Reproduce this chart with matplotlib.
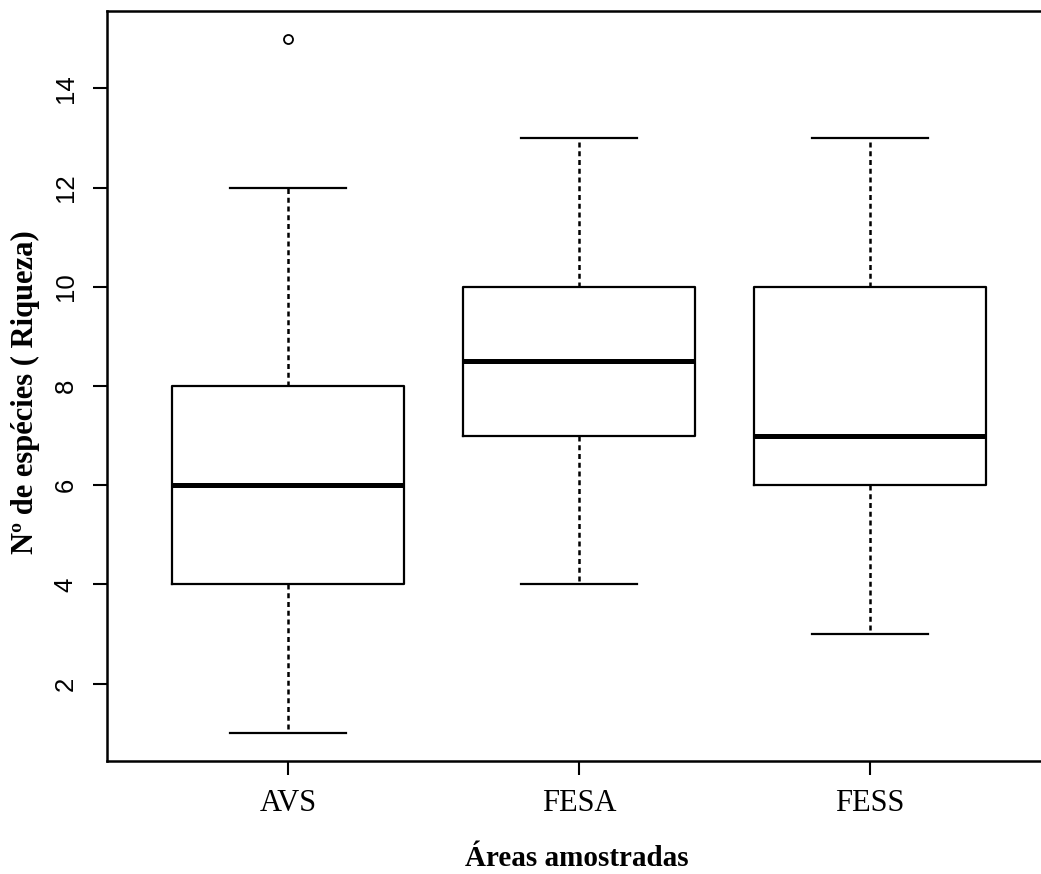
import matplotlib
matplotlib.use("Agg")
import matplotlib.pyplot as plt

categories = ["AVS", "FESA", "FESS"]
whisker_low = [1, 4, 3]
q1 = [4, 7, 6]
median = [6, 8.5, 7]
q3 = [8, 10, 10]
whisker_high = [12, 13, 13]
outliers = [[15], [], []]
yticks = [2, 4, 6, 8, 10, 12, 14]

stats = []
for i, c in enumerate(categories):
    stats.append(dict(label=c, whislo=whisker_low[i], q1=q1[i], med=median[i],
                      q3=q3[i], whishi=whisker_high[i], fliers=outliers[i]))

fig = plt.figure(figsize=(10.41, 8.74), dpi=100)
ax = fig.add_axes([107/1041, 113/874, 944/1041, 750/874])

positions = [1, 2, 3]
ax.bxp(stats, positions=positions, widths=0.8, patch_artist=False,
       boxprops=dict(color="black", linewidth=1.6),
       medianprops=dict(color="black", linewidth=3.6),
       whiskerprops=dict(color="black", linewidth=1.8, linestyle=(0, (2, 1.5))),
       capprops=dict(color="black", linewidth=1.6),
       capwidths=0.4,
       flierprops=dict(marker="o", markerfacecolor="none", markeredgecolor="black",
                       markersize=6.5, markeredgewidth=1.3))

ax.set_xlim(0.378, 3.622)
ax.set_ylim(0.44, 15.56)
ax.set_yticks(yticks)
ax.set_yticklabels([str(v) for v in yticks], rotation=90, va="center",
                   family="Liberation Sans", fontsize=18.5)
ax.set_xticks(positions)
ax.set_xticklabels(categories, family="Liberation Serif", fontsize=22)
ax.tick_params(axis="both", length=10, width=1.5, color="black")
ax.tick_params(axis="y", pad=11)
ax.tick_params(axis="x", pad=10)
for s in ax.spines.values():
    s.set_linewidth(1.8)

fig.text(25/1041, 1 - 392/874, "Nº de espécies ( Riqueza)", rotation=90,
         ha="center", va="center", family="Liberation Serif", fontweight="bold",
         fontsize=22)
fig.text(577/1041, 1 - 858/874, "Áreas amostradas", ha="center", va="center",
         family="Liberation Serif", fontweight="bold", fontsize=21)

fig.savefig("out.png", dpi=100)
